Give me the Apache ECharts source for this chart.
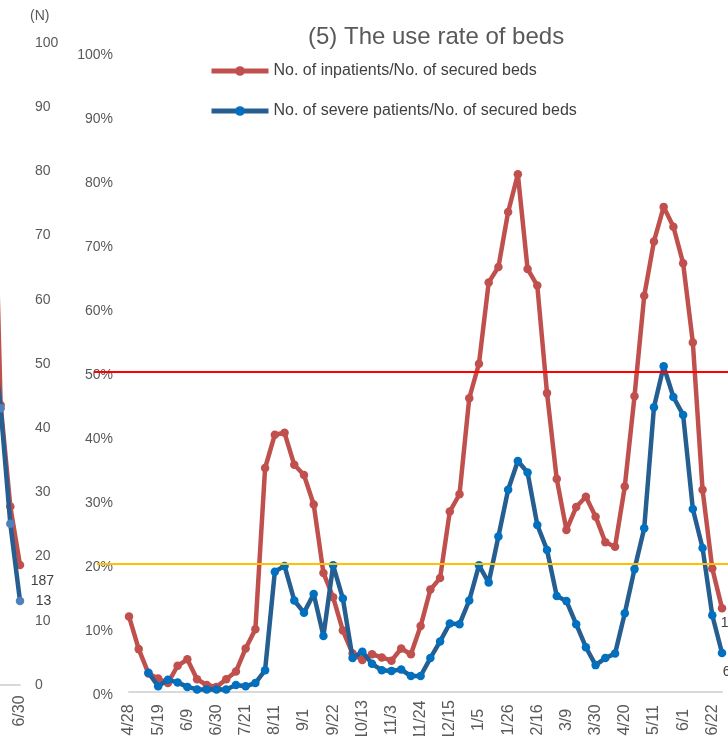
<!DOCTYPE html>
<html>
<head>
<meta charset="utf-8">
<script src="https://cdn.jsdelivr.net/npm/echarts@6/dist/echarts.min.js"></script>
<style>html,body{margin:0;padding:0;background:#fff}#chart{width:728px;height:736px}</style>
</head>
<body>
<div id="chart"></div>
<script>
// ---- data ----
const weeks = ['4/28','5/5','5/12','5/19','5/26','6/2','6/9','6/16','6/23','6/30','7/7','7/14','7/21','7/28','8/4','8/11','8/18','8/25','9/1','9/8','9/15','9/22','9/29','10/6','10/13','10/20','10/27','11/3','11/10','11/17','11/24','12/1','12/8','12/15','12/22','12/29','1/5','1/12','1/19','1/26','2/2','2/9','2/16','2/23','3/2','3/9','3/16','3/23','3/30','4/6','4/13','4/20','4/27','5/4','5/11','5/18','5/25','6/1','6/8','6/15','6/22','6/29'];
const inpatientRate = [11.8,6.7,2.9,2.1,1.4,4.1,5.1,2.0,1.1,0.8,2.0,3.2,6.8,9.8,35.0,40.2,40.5,35.5,33.9,29.3,18.6,14.8,9.6,6.0,5.0,5.9,5.4,4.9,6.8,5.9,10.3,16.0,17.8,28.2,30.9,45.9,51.3,64.0,66.4,75.0,80.9,66.1,63.5,46.7,33.3,25.3,28.9,30.5,27.4,23.4,22.7,32.1,46.2,61.9,70.4,75.8,72.7,67.0,54.6,31.6,19.3,13.1];
const severeRate = [null,null,3.0,0.9,1.9,1.5,0.8,0.4,0.4,0.4,0.4,1.1,0.9,1.4,3.4,18.8,19.7,14.3,12.4,15.3,8.75,19.8,14.6,5.3,6.3,4.4,3.4,3.3,3.5,2.5,2.5,5.3,7.9,10.7,10.6,14.3,19.8,17.1,24.3,31.6,36.1,34.3,26.1,22.2,15.0,14.2,10.6,7.0,4.2,5.3,6.0,12.3,19.2,25.6,44.5,50.9,46.1,43.3,28.6,22.5,12.0,6.1];
const seriesNames = ['No. of inpatients/No. of secured beds','No. of severe patients/No. of secured beds'];
const titleText = '(5) The use rate of beds';
const thresholds = [50, 20];
// neighbouring (cropped) chart on the left edge
const leftWeeks = ['6/9','6/16','6/23','6/30'];
const leftInpatients = [100, 43.6, 27.8, 18.7];
const leftSevere = [57, 43.1, 25.1, 13.1];
const leftEndLabels = ['187', '13'];

// ---- chart ----
const F = "'Liberation Sans', Arial, sans-serif";
const RED = '#C0504D', BLUE_LINE = '#255E91', BLUE_DOT = '#0070C0';
const chart = echarts.init(document.getElementById('chart'), null, {renderer:'canvas'});

function lastLabel(arr, text, pos, color) {
  return arr.map((v, i) => i === arr.length - 1 ? {value: v, label: {show: true, formatter: text, position: pos, color: color, fontSize: 14, fontFamily: F}} : v);
}

const option = {
  animation: false,
  backgroundColor: '#ffffff',
  title: {text: titleText, left: 303, top: 20, textStyle: {fontFamily: F, fontSize: 24, fontWeight: 'normal', color: '#595959'}},
  legend: {
    data: seriesNames, orient: 'vertical', left: 209, top: 63, padding: 0, itemWidth: 57, itemHeight: 12, itemGap: 24,
    lineStyle: {width: 5}, itemStyle: {borderWidth: 0},
    textStyle: {fontFamily: F, fontSize: 16, color: '#404040'}
  },
  grid: [
    {left: 129, right: 6, top: 52, bottom: 44, outerBoundsMode: 'none'},
    {left: -9, right: 708, top: 43, bottom: 51, outerBoundsMode: 'none'}
  ],
  xAxis: [
    {gridIndex: 0, type: 'category', data: weeks, boundaryGap: false,
     axisLine: {lineStyle: {color: '#D9D9D9', width: 2}}, axisTick: {show: false},
     axisLabel: {interval: 2, rotate: 90, align: 'center', verticalAlign: 'middle', margin: 28, color: '#595959', fontSize: 16, fontFamily: F}},
    {gridIndex: 1, type: 'category', data: leftWeeks, boundaryGap: false,
     axisLine: {lineStyle: {color: '#D9D9D9', width: 2}}, axisTick: {show: false},
     axisLabel: {interval: 2, rotate: 90, align: 'center', verticalAlign: 'middle', margin: 26, color: '#595959', fontSize: 16, fontFamily: F}}
  ],
  yAxis: [
    {gridIndex: 0, type: 'value', min: 0, max: 100, interval: 10,
     axisLabel: {formatter: '{value}%', color: '#595959', fontSize: 14, fontFamily: F, margin: 16, verticalAlign: 'top', lineHeight: 6},
     axisLine: {show: false}, axisTick: {show: false}, splitLine: {show: false}},
    {gridIndex: 1, type: 'value', position: 'right', min: 0, max: 100, interval: 10,
     name: '(N)', nameLocation: 'end', nameGap: 20,
     nameTextStyle: {color: '#595959', fontSize: 14, fontFamily: F, align: 'left', padding: [0, 0, 0, 10]},
     axisLabel: {color: '#595959', fontSize: 14, fontFamily: F, margin: 15},
     axisLine: {show: false}, axisTick: {show: false}, splitLine: {show: false}}
  ],
  series: [
    {name: seriesNames[0], type: 'line', xAxisIndex: 0, yAxisIndex: 0, showAllSymbol: true,
     data: lastLabel(inpatientRate, '13', [3, 12], '#404040'),
     symbol: 'circle', symbolSize: 8.5, lineStyle: {color: RED, width: 4.5}, itemStyle: {color: RED}, z: 3},
    {name: seriesNames[1], type: 'line', xAxisIndex: 0, yAxisIndex: 0, showAllSymbol: true,
     data: lastLabel(severeRate, '6', [5, 16], '#404040'),
     symbol: 'circle', symbolSize: 8.5, lineStyle: {color: BLUE_LINE, width: 4.5}, itemStyle: {color: BLUE_DOT}, z: 4},
    {name: 'left-inpatients', type: 'line', xAxisIndex: 1, yAxisIndex: 1, clip: false, showAllSymbol: true,
     data: lastLabel(leftInpatients, leftEndLabels[0], [15, 13], '#404040'),
     symbol: 'circle', symbolSize: 8.5, lineStyle: {color: RED, width: 4.5}, itemStyle: {color: RED}, z: 3},
    {name: 'left-severe', type: 'line', xAxisIndex: 1, yAxisIndex: 1, clip: false, showAllSymbol: true,
     data: lastLabel(leftSevere, leftEndLabels[1], [20, -3], '#404040'),
     symbol: 'circle', symbolSize: 8.5, lineStyle: {color: BLUE_LINE, width: 4.5}, itemStyle: {color: '#4F81BD'}, z: 4}
  ]
};
chart.setOption(option);

const y50 = chart.convertToPixel({yAxisIndex: 0}, thresholds[0]);
const y20 = chart.convertToPixel({yAxisIndex: 0}, thresholds[1]);
chart.setOption({
  graphic: [
    {type: 'line', z: 10, shape: {x1: 94, y1: y50, x2: 728, y2: y50}, style: {stroke: '#FF0000', lineWidth: 2}},
    {type: 'line', z: 10, shape: {x1: 97, y1: y20, x2: 728, y2: y20}, style: {stroke: '#FFC000', lineWidth: 2}}
  ]
});
</script>
</body>
</html>
